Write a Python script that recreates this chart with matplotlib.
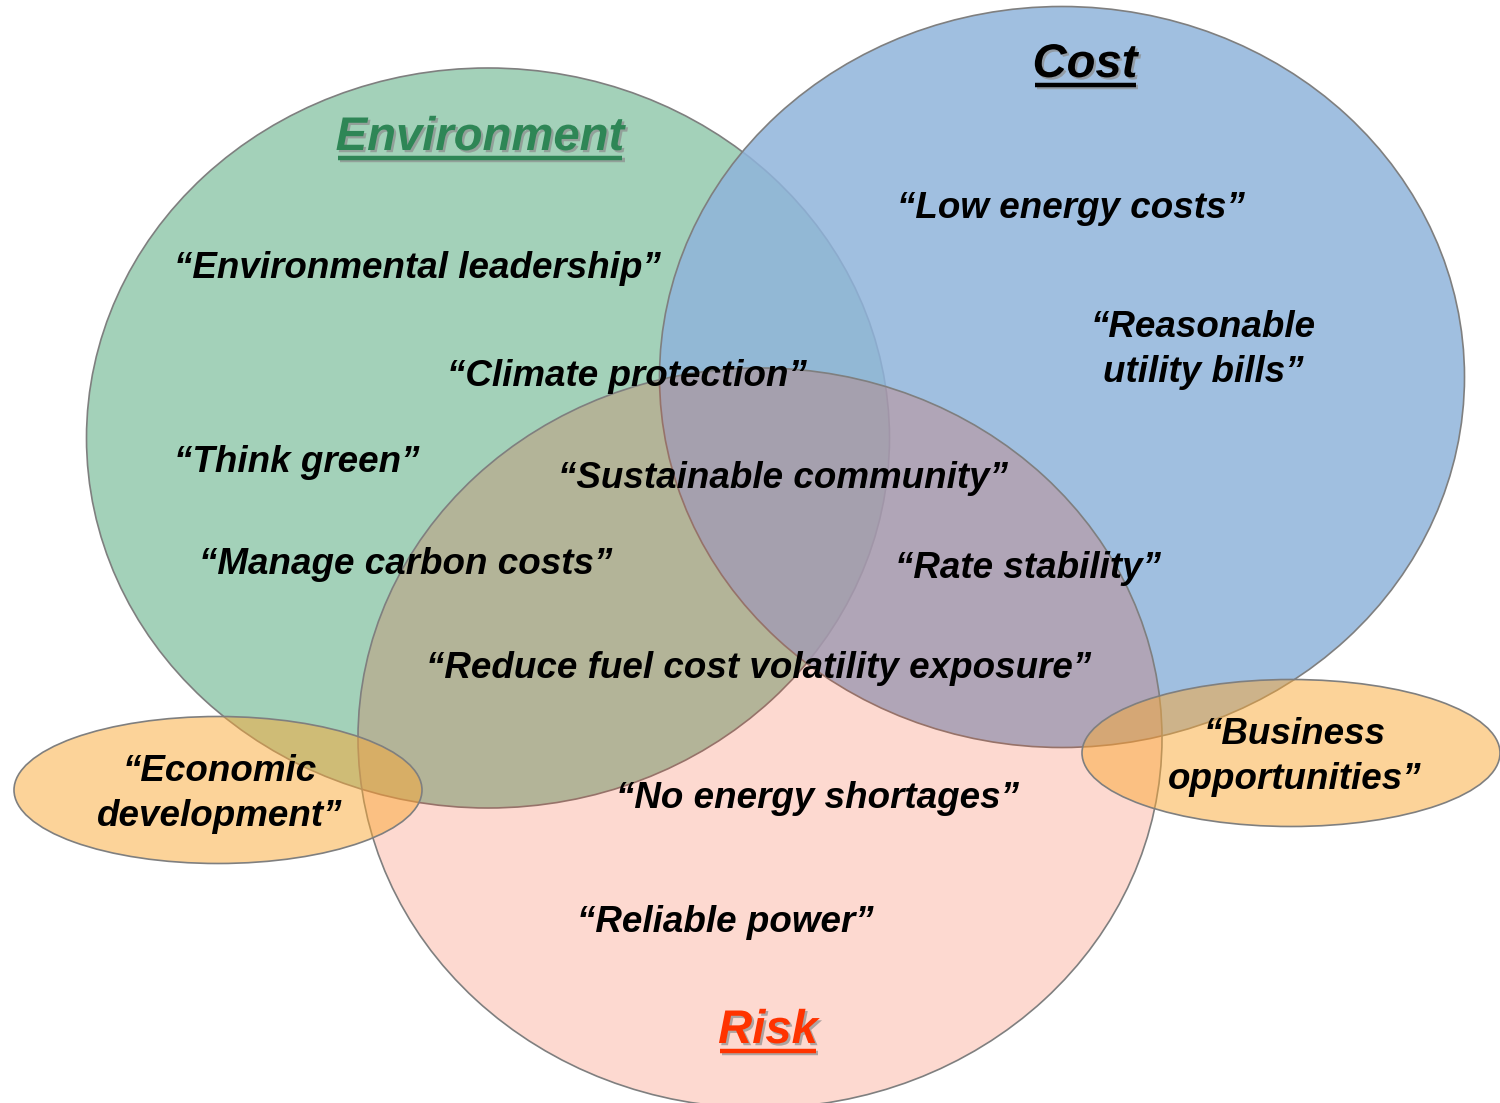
import matplotlib
matplotlib.use("Agg")
import matplotlib.pyplot as plt
from matplotlib.patches import Ellipse
import matplotlib.patheffects as pe

# ---------------- data ----------------
set_names = ["Environment", "Cost", "Risk"]
set_title_colors = ["#2e8656", "#000000", "#ff3300"]
extra_labels = ["\u201cEconomic\ndevelopment\u201d", "\u201cBusiness\nopportunities\u201d"]
phrases = [
    "\u201cEnvironmental leadership\u201d",
    "\u201cClimate protection\u201d",
    "\u201cThink green\u201d",
    "\u201cSustainable community\u201d",
    "\u201cManage carbon costs\u201d",
    "\u201cRate stability\u201d",
    "\u201cReduce fuel cost volatility exposure\u201d",
    "\u201cLow energy costs\u201d",
    "\u201cReasonable\nutility bills\u201d",
    "\u201cNo energy shortages\u201d",
    "\u201cReliable power\u201d",
]

# ---------------- layout (pixels, y downward) ----------------
W, H = 1500, 1103
circle_geom = [  # (cx, cy, width, height)
    (488, 438, 803, 740),
    (1062, 377, 805, 741),
    (760, 738, 804, 740),
]
circle_faces = [
    (163/255, 209/255, 185/255, 1.0),
    (143/255, 180/255, 219/255, 0.85),
    (245/255, 65/255, 20/255, 0.20),
]
extra_geom = [(218, 790, 408, 147), (1291, 753, 418, 147)]
extra_face = (251/255, 169/255, 53/255, 0.5)
extra_text_pos = [(220, 794), (1295, 757)]
title_pos = [(480, 150), (1085, 77), (768, 1043)]
phrase_pos = [
    (417, 268), (627, 376), (297, 462), (783, 478), (406, 564),
    (1028, 569), (759, 669), (1071, 209), (1203, 350), (817, 799), (725, 923),
]
edge = "#7f7f7f"

plt.rcParams["font.family"] = ["Liberation Sans", "DejaVu Sans"]

fig = plt.figure(figsize=(W / 100, H / 100), dpi=100)
ax = fig.add_axes([0, 0, 1, 1])
ax.set_xlim(0, W)
ax.set_ylim(H, 0)
ax.set_aspect("equal")
ax.axis("off")

for (cx, cy, w, h), fc in zip(circle_geom, circle_faces):
    ax.add_patch(Ellipse((cx, cy), w, h, facecolor=fc, edgecolor=edge, linewidth=1.2))
for (cx, cy, w, h) in extra_geom:
    ax.add_patch(Ellipse((cx, cy), w, h, facecolor=extra_face, edgecolor=edge, linewidth=1.2))

txt_kw = dict(fontsize=26.5, fontweight="bold", fontstyle="italic", color="black",
              ha="center", va="center", linespacing=1.38)
for label, (x, y) in zip(phrases, phrase_pos):
    ax.text(x, y, label, **txt_kw)
for label, (x, y) in zip(extra_labels, extra_text_pos):
    ax.text(x, y, label, **txt_kw)

shadow = [pe.SimplePatchShadow(offset=(1.6, -1.6), shadow_rgbFace="#8c8c8c", alpha=0.7), pe.Normal()]
titles = []
for name, col, (x, y) in zip(set_names, set_title_colors, title_pos):
    t = ax.text(x, y, name, fontsize=34, fontweight="bold", fontstyle="italic",
                color=col, ha="center", va="baseline", path_effects=shadow)
    titles.append((t, col, y))

fig.canvas.draw()
renderer = fig.canvas.get_renderer()
inv = ax.transData.inverted()
for t, col, y in titles:
    bb = t.get_window_extent(renderer)
    (x0, _), (x1, _) = inv.transform([[bb.x0, bb.y0], [bb.x1, bb.y1]])
    ax.plot([x0 + 2, x1 - 2], [y + 8, y + 8], color=col, linewidth=3.2,
            solid_capstyle="butt",
            path_effects=[pe.SimpleLineShadow(offset=(1.6, -1.6), shadow_color="#8c8c8c", alpha=0.7), pe.Normal()])

fig.savefig("out.png", dpi=100)
